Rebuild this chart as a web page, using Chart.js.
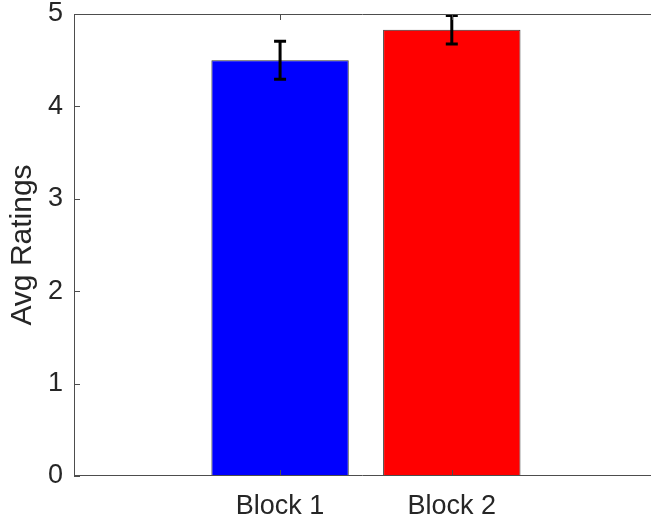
<!DOCTYPE html>
<html>
<head>
<meta charset="utf-8">
<script src="https://cdn.jsdelivr.net/npm/chart.js@4"></script>
<style>
    html, body { margin: 0; padding: 0; background: #fff; overflow: hidden; }
    #wrap { width: 651px; height: 520px; }
</style>
</head>
<body>
<div id="wrap"><canvas id="chart"></canvas></div>
<script>
var blocks = ['Block 1', 'Block 2'];
var blockPos = [1, 2];
var avgRatings = [4.50, 4.83];
var errors = [0.205, 0.155];
var barColors = ['#0000ff', '#ff0000'];
var yTicks = [0, 1, 2, 3, 4, 5];

var axisColor = '#4d4d4d';
var fontFamily = 'Liberation Sans, Arial, sans-serif';

// error bars drawn on top of the bars
var errorBars = {
    id: 'errorBars',
    afterDatasetsDraw: function (chart) {
        var ctx = chart.ctx;
        var x = chart.scales.x, y = chart.scales.y;
        ctx.save();
        ctx.strokeStyle = '#000';
        ctx.lineWidth = 3;
        avgRatings.forEach(function (v, i) {
            var px = x.getPixelForValue(blockPos[i]);
            var top = y.getPixelForValue(v + errors[i]);
            var bot = y.getPixelForValue(v - errors[i]);
            ctx.beginPath();
            ctx.moveTo(px, top); ctx.lineTo(px, bot);
            ctx.moveTo(px - 6, top); ctx.lineTo(px + 6, top);
            ctx.moveTo(px - 6, bot); ctx.lineTo(px + 6, bot);
            ctx.stroke();
        });
        ctx.restore();
    }
};

// matlab style box with inward ticks
var boxTicks = {
    id: 'boxTicks',
    afterDatasetsDraw: function (chart) {
        var ctx = chart.ctx;
        var a = chart.chartArea;
        var x = chart.scales.x, y = chart.scales.y;
        ctx.save();
        ctx.strokeStyle = axisColor;
        ctx.lineWidth = 1;
        ctx.beginPath();
        ctx.moveTo(a.left, a.top + 0.5); ctx.lineTo(a.right, a.top + 0.5);
        ctx.moveTo(a.left + 0.5, a.top); ctx.lineTo(a.left + 0.5, a.bottom);
        ctx.moveTo(a.left, a.bottom - 0.5); ctx.lineTo(a.right, a.bottom - 0.5);
        yTicks.forEach(function (t) {
            var py = Math.round(y.getPixelForValue(t)) + 0.5;
            ctx.moveTo(a.left, py); ctx.lineTo(a.left + 6, py);
        });
        blockPos.forEach(function (p) {
            var px = Math.round(x.getPixelForValue(p)) + 0.5;
            ctx.moveTo(px, a.top); ctx.lineTo(px, a.top + 6);
            ctx.moveTo(px, a.bottom); ctx.lineTo(px, a.bottom - 6);
        });
        ctx.stroke();
        ctx.restore();
    }
};

new Chart(document.getElementById('chart'), {
    type: 'bar',
    data: {
        datasets: [{
            data: blockPos.map(function (p, i) { return {x: p, y: avgRatings[i]}; }),
            backgroundColor: barColors,
            borderColor: '#333',
            borderWidth: 1,
            borderSkipped: false,
            categoryPercentage: 0.8,
            barPercentage: 1.0
        }]
    },
    plugins: [errorBars, boxTicks],
    options: {
        responsive: true,
        maintainAspectRatio: false,
        animation: false,
        layout: { padding: 0 },
        plugins: { legend: { display: false }, tooltip: { enabled: false } },
        scales: {
            x: {
                type: 'linear',
                offset: false,
                min: -0.2,
                max: 3.16,
                afterBuildTicks: function (s) { s.ticks = blockPos.map(function (p) { return {value: p}; }); },
                afterFit: function (s) { s.height = 44; s.paddingLeft = 0; s.paddingRight = 0; },
                grid: { display: false, drawTicks: false, offset: false },
                border: { display: false },
                ticks: {
                    padding: 14,
                    color: '#262626',
                    font: { family: fontFamily, size: 27 },
                    callback: function (v) { return blocks[blockPos.indexOf(v)]; }
                }
            },
            y: {
                min: 0,
                max: 5,
                afterBuildTicks: function (s) { s.ticks = yTicks.map(function (t) { return {value: t}; }); },
                afterFit: function (s) { s.width = 74; s.paddingTop = 14; s.paddingBottom = 0; },
                grid: { display: false, drawTicks: false },
                border: { display: false },
                ticks: {
                    padding: 11,
                    color: '#262626',
                    font: { family: fontFamily, size: 27 }
                },
                title: {
                    display: true,
                    text: 'Avg Ratings',
                    color: '#262626',
                    font: { family: fontFamily, size: 30 },
                    padding: { top: 5, bottom: 0 }
                }
            }
        }
    }
});
</script>
</body>
</html>
